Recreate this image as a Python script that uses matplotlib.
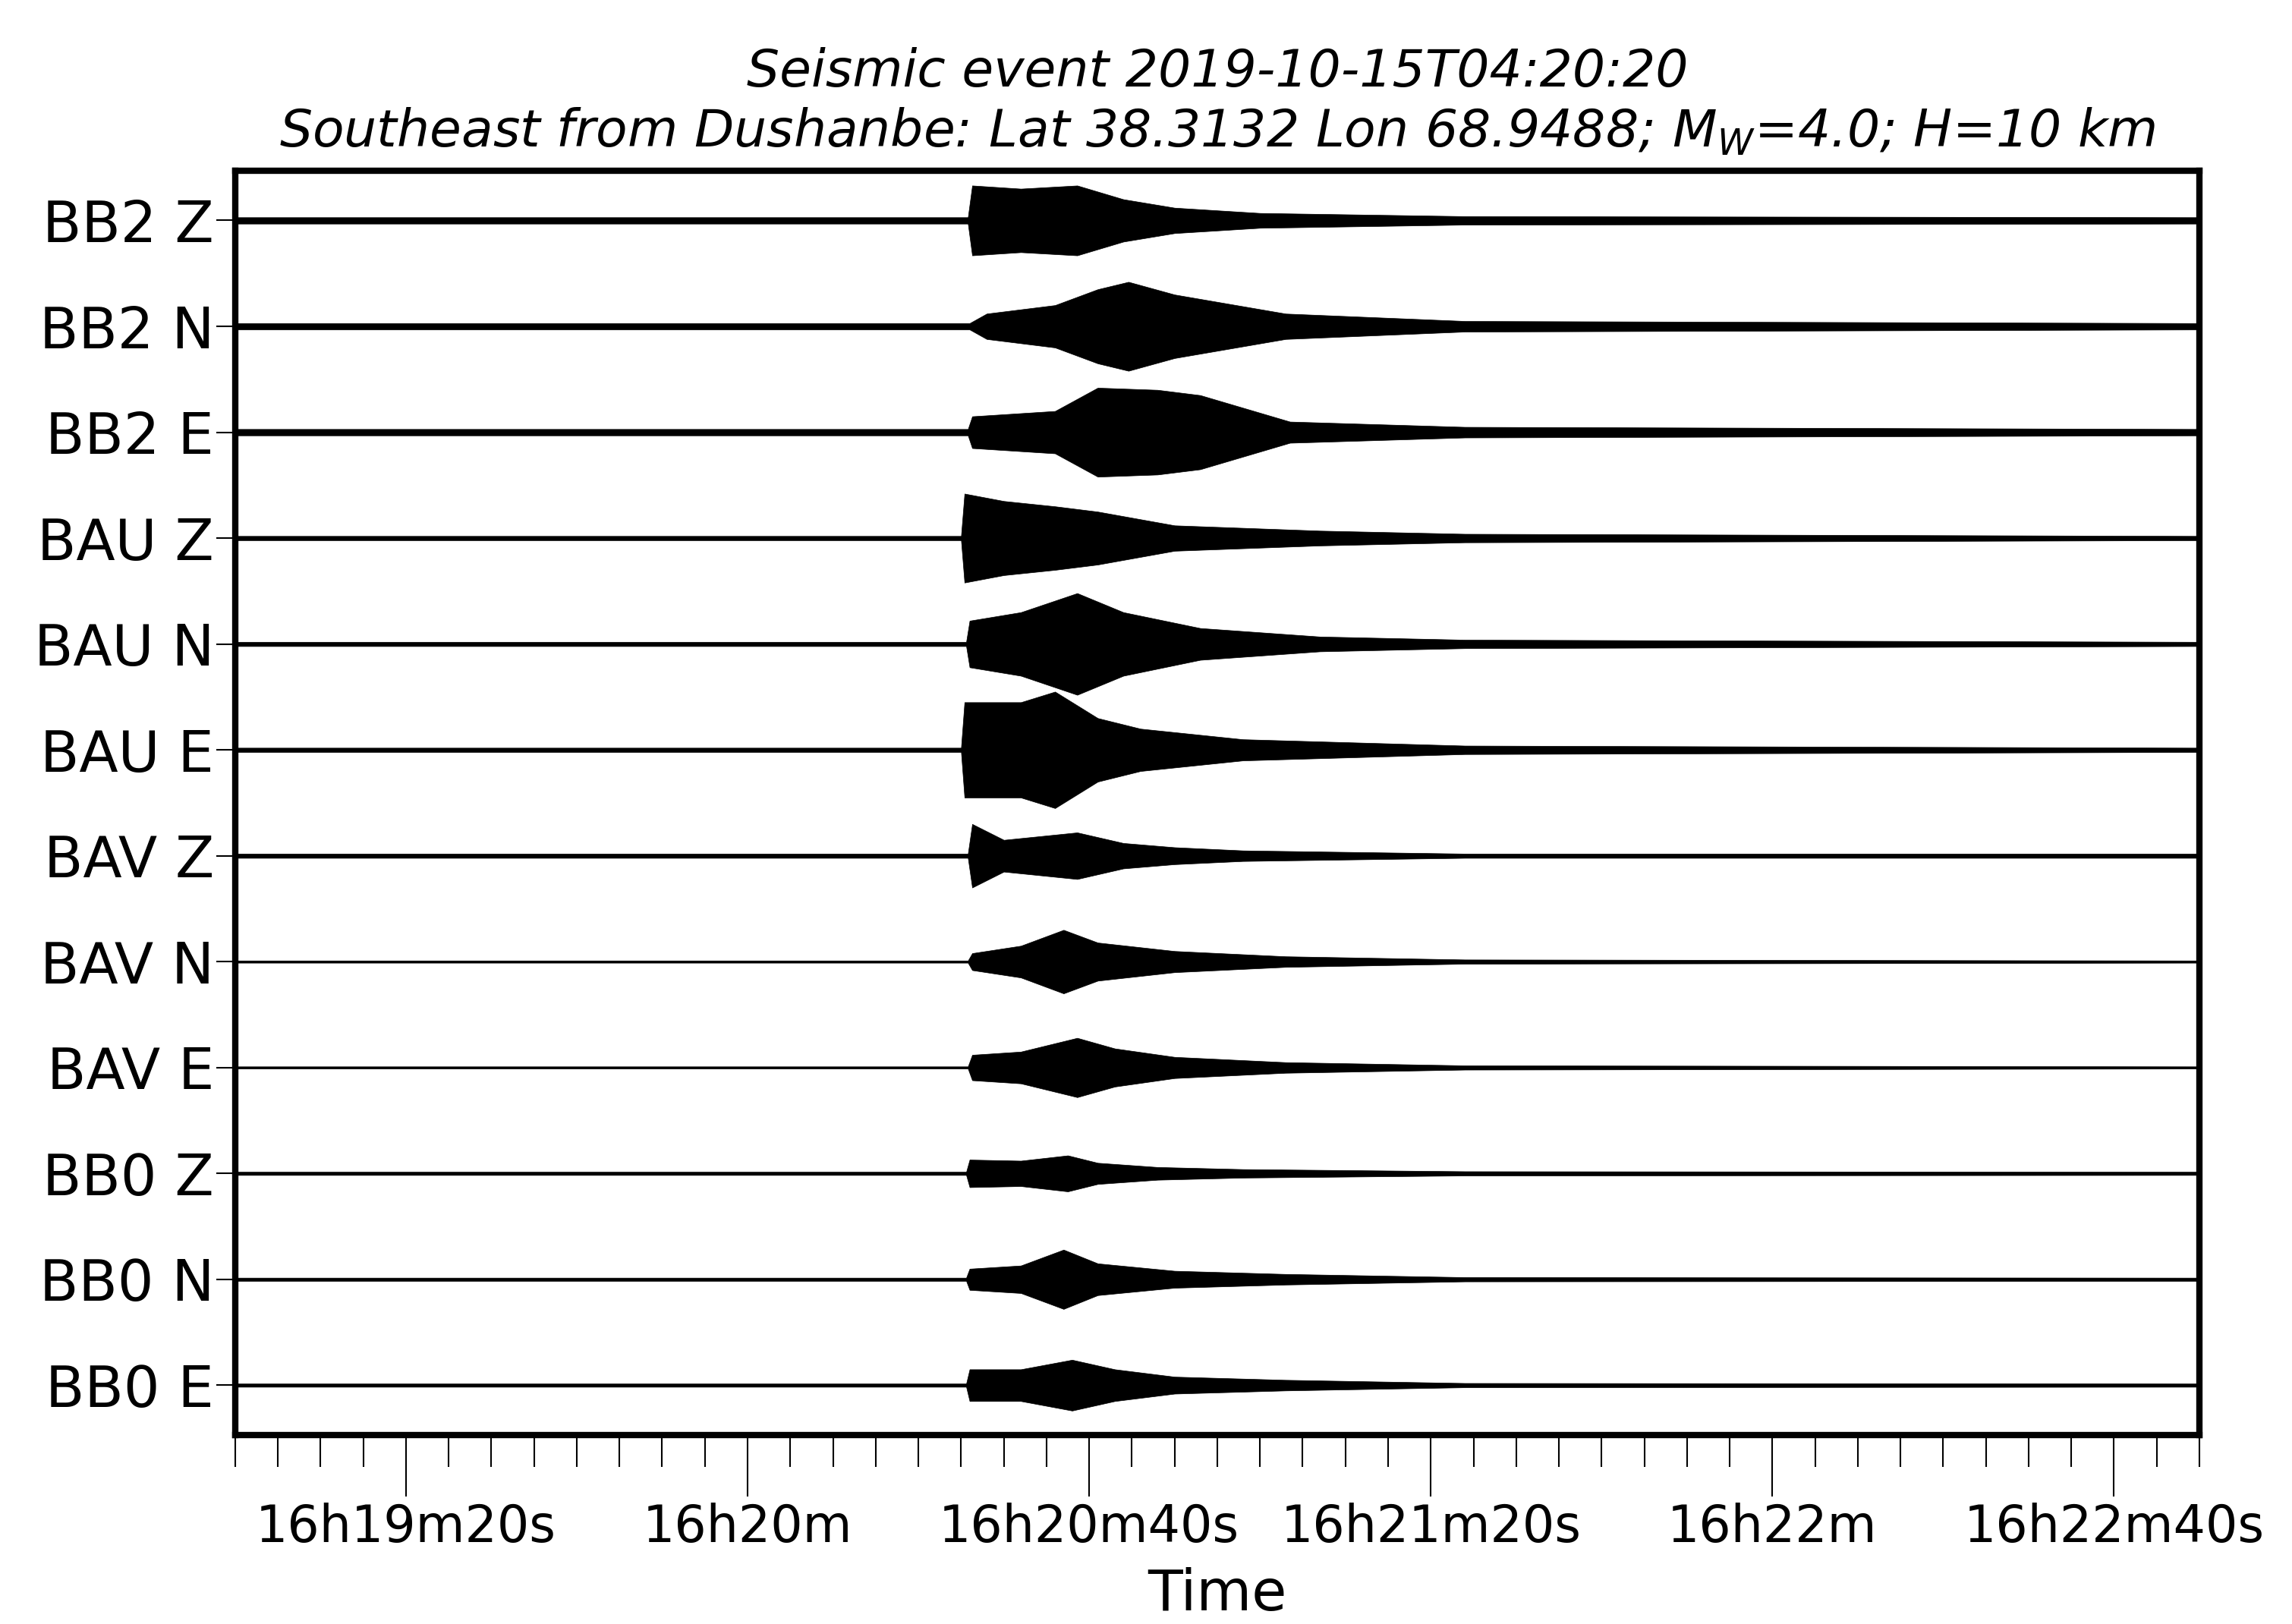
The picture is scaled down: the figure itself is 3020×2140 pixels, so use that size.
import numpy as np
import matplotlib
matplotlib.use("Agg")
import matplotlib.pyplot as plt
from matplotlib.ticker import MultipleLocator

# seconds after 16h19m00s
TRACES = ["BB2 Z", "BB2 N", "BB2 E", "BAU Z", "BAU N", "BAU E",
          "BAV Z", "BAV N", "BAV E", "BB0 Z", "BB0 N", "BB0 E"]

# envelope knots (time s, half amplitude in trace spacing units)
ENV_T = {
    "BB2 Z": [0, 85.8, 86.3, 92, 98.6, 104, 110, 120, 144, 230],
    "BB2 N": [0, 86, 88, 96, 101, 104.6, 110, 123, 144, 230],
    "BB2 E": [0, 85.8, 86.3, 96, 101, 108, 113, 123.5, 144, 230],
    "BAU Z": [0, 85, 85.4, 90, 96, 101, 110, 127, 144, 230],
    "BAU N": [0, 85.6, 86, 92, 98.6, 104, 113, 127, 144, 230],
    "BAU E": [0, 85, 85.4, 92, 96, 101, 106, 118, 144, 230],
    "BAV Z": [0, 85.8, 86.3, 90, 98.6, 104, 110, 118, 144, 230],
    "BAV N": [0, 85.8, 86.3, 92, 97, 101, 110, 123, 144, 230],
    "BAV E": [0, 85.8, 86.3, 92, 98.6, 103, 110, 123, 144, 230],
    "BB0 Z": [0, 85.6, 86, 92, 97.5, 101, 108, 118, 144, 230],
    "BB0 N": [0, 85.6, 86, 92, 97, 101, 110, 123, 144, 230],
    "BB0 E": [0, 85.6, 86, 92, 98, 103, 110, 123, 144, 230],
}
ENV_A = {
    "BB2 Z": [0.03, 0.03, 0.33, 0.3, 0.33, 0.2, 0.12, 0.07, 0.04, 0.03],
    "BB2 N": [0.03, 0.03, 0.12, 0.2, 0.35, 0.42, 0.3, 0.12, 0.05, 0.03],
    "BB2 E": [0.03, 0.03, 0.15, 0.2, 0.42, 0.4, 0.35, 0.1, 0.05, 0.03],
    "BAU Z": [0.02, 0.02, 0.42, 0.35, 0.3, 0.25, 0.12, 0.07, 0.04, 0.02],
    "BAU N": [0.02, 0.02, 0.22, 0.3, 0.48, 0.3, 0.15, 0.07, 0.04, 0.02],
    "BAU E": [0.02, 0.02, 0.45, 0.45, 0.55, 0.3, 0.2, 0.1, 0.04, 0.02],
    "BAV Z": [0.02, 0.02, 0.3, 0.15, 0.22, 0.12, 0.08, 0.05, 0.02, 0.02],
    "BAV N": [0.01, 0.01, 0.08, 0.15, 0.3, 0.18, 0.1, 0.05, 0.02, 0.01],
    "BAV E": [0.01, 0.01, 0.12, 0.15, 0.28, 0.18, 0.1, 0.05, 0.02, 0.01],
    "BB0 Z": [0.015, 0.015, 0.13, 0.12, 0.17, 0.1, 0.06, 0.04, 0.02, 0.015],
    "BB0 N": [0.015, 0.015, 0.1, 0.13, 0.28, 0.15, 0.08, 0.05, 0.02, 0.015],
    "BB0 E": [0.015, 0.015, 0.15, 0.15, 0.24, 0.15, 0.08, 0.05, 0.02, 0.015],
}

TICK_POS = [20, 60, 100, 140, 180, 220]
TICK_LABELS = ["16h19m20s", "16h20m", "16h20m40s", "16h21m20s", "16h22m", "16h22m40s"]

TITLE = ("Seismic event 2019-10-15T04:20:20\n"
         "Southeast from Dushanbe: Lat 38.3132 Lon 68.9488; M$_\\mathregular{W}$=4.0; H=10 km")

fig = plt.figure(figsize=(30.2, 21.4), dpi=100)
ax = fig.add_axes([0.1026, 0.1164, 0.857, 0.7785])

for i, name in enumerate(TRACES):
    t = np.array(ENV_T[name])
    a = np.array(ENV_A[name])
    ax.fill_between(t, i - a, i + a, color="black", linewidth=0.5)
    ax.plot([0, 230], [i, i], color="black", linewidth=1.5)

ax.set_xlim(0, 230)
ax.set_ylim(len(TRACES) - 0.53, -0.47)
ax.set_yticks(range(len(TRACES)))
ax.set_yticklabels(TRACES, fontsize=54)
ax.tick_params(axis="y", length=18, width=1.5, pad=2)

ax.set_xticks(TICK_POS)
ax.set_xticklabels(TICK_LABELS, fontsize=48)
ax.xaxis.set_minor_locator(MultipleLocator(5))
ax.tick_params(axis="x", which="major", length=58, width=1.5, pad=6)
ax.tick_params(axis="x", which="minor", length=30, width=1.5)
ax.set_xlabel("Time", fontsize=54, labelpad=14)

for s in ax.spines.values():
    s.set_linewidth(6)

ax.set_title(TITLE, fontsize=49, style="italic", pad=22, linespacing=1.25)

fig.savefig("out.png", dpi=100)
